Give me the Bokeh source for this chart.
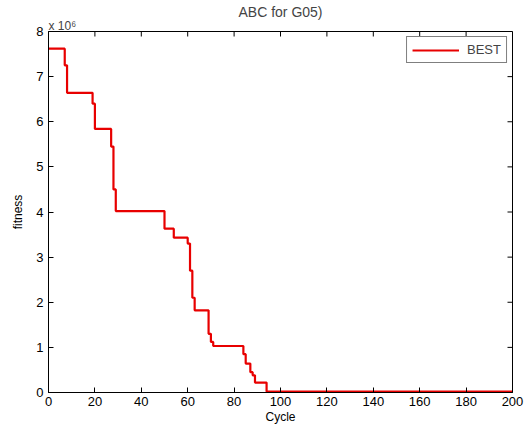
import math
from bokeh.plotting import figure
from bokeh.models import Range1d, Legend, LegendItem, FixedTicker, Title
from bokeh.embed import file_html
from bokeh.resources import INLINE

# Best fitness per cycle (step breakpoints), values in units of 1e6
cycle = [0, 7, 8, 19, 20, 27, 28, 29, 50, 54, 60, 61, 62, 63, 69, 70, 71,
         84, 85, 87, 88, 89, 94, 200]
best_fitness_e6 = [7.62, 7.25, 6.64, 6.40, 5.84, 5.45, 4.50, 4.02, 3.63, 3.43,
                   3.30, 2.70, 2.10, 1.82, 1.30, 1.12, 1.03,
                   0.85, 0.64, 0.45, 0.38, 0.22, 0.02, 0.02]
x_ticks = [0, 20, 40, 60, 80, 100, 120, 140, 160, 180, 200]
y_ticks = [0, 1, 2, 3, 4, 5, 6, 7, 8]

FONT = "Liberation Sans"

p = figure(frame_width=464, frame_height=361, output_backend="svg",
           toolbar_location=None, x_range=Range1d(x_ticks[0], x_ticks[-1]),
           y_range=Range1d(y_ticks[0], y_ticks[-1]),
           min_border_left=48, min_border_right=12, min_border_top=31,
           min_border_bottom=20)
p.background_fill_color = "white"
p.border_fill_color = "white"
p.outline_line_color = "black"
p.outline_line_width = 1
p.xgrid.visible = False
p.ygrid.visible = False

for ax in (p.xaxis[0], p.yaxis[0]):
    ax.major_tick_in = 5
    ax.major_tick_out = 0
    ax.minor_tick_line_color = None
    ax.axis_line_color = "black"
    ax.major_tick_line_color = "black"
    ax.major_label_text_font = FONT
    ax.major_label_text_font_size = "13px"
    ax.major_label_text_color = "black"
    ax.axis_label_text_font = FONT
    ax.axis_label_text_font_size = "12px"
    ax.axis_label_text_font_style = "normal"
    ax.axis_label_text_color = "black"

p.xaxis[0].ticker = FixedTicker(ticks=x_ticks)
p.yaxis[0].ticker = FixedTicker(ticks=y_ticks)
p.xaxis[0].axis_label = "Cycle"
p.yaxis[0].axis_label = "fitness"
p.xaxis[0].major_label_standoff = 4
p.xaxis[0].axis_label_standoff = 1
p.yaxis[0].major_label_standoff = 5
p.yaxis[0].axis_label_standoff = 8

# tick marks on the top and right edges of the box
p.ray(x=x_ticks, y=[y_ticks[-1]] * len(x_ticks), length=5, length_units="screen",
      angle=-math.pi / 2, line_color="black", line_width=1)
p.ray(x=[x_ticks[-1]] * len(y_ticks), y=y_ticks, length=5, length_units="screen",
      angle=math.pi, line_color="black", line_width=1)

r = p.step(cycle, best_fitness_e6, mode="after", line_color="#e80000", line_width=2.2)

legend = Legend(items=[LegendItem(label="BEST", renderers=[r])], location="top_right")
legend.label_text_font = FONT
legend.label_text_font_size = "13px"
legend.glyph_width = 47
legend.glyph_height = 14
legend.label_height = 14
legend.label_standoff = 8
legend.padding = 5
legend.margin = 5
legend.border_line_color = "black"
legend.border_line_width = 1
legend.background_fill_color = "white"
legend.background_fill_alpha = 1
p.add_layout(legend)

p.add_layout(Title(text="x 10\u2076", align="left", text_font=FONT,
                   text_font_size="12px", text_font_style="normal",
                   standoff=-3), "above")
p.add_layout(Title(text="ABC for G05)", align="center", text_font=FONT,
                   text_font_size="14px", text_font_style="normal",
                   standoff=-2), "above")

open("out.html", "w").write(file_html(p, INLINE))
